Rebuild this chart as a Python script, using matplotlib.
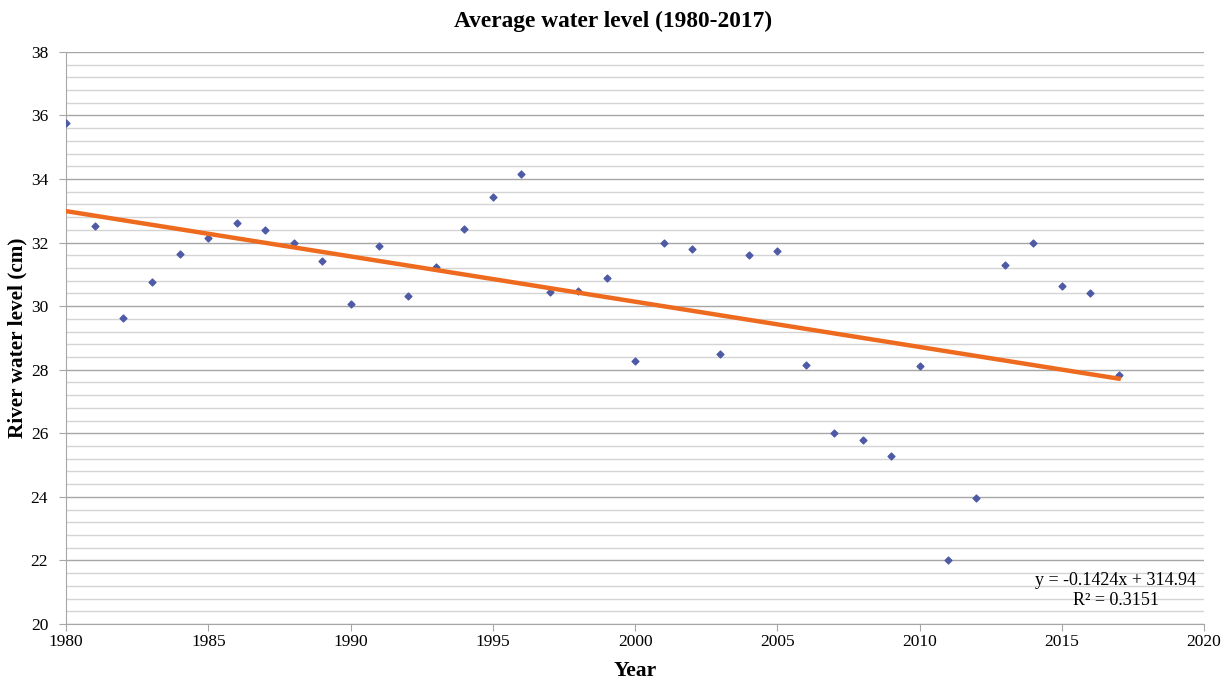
import matplotlib.pyplot as plt
from matplotlib.ticker import MultipleLocator

# Данные
years = list(range(1980, 2018))
levels = [35.75, 32.52, 29.62, 30.75, 31.64, 32.14, 32.61, 32.39, 31.98, 31.42,
          30.06, 31.89, 30.31, 31.23, 32.42, 33.43, 34.15, 30.44, 30.47, 30.88,
          28.27, 31.98, 31.79, 28.49, 31.60, 31.73, 28.14, 26.01, 25.79, 25.28,
          28.11, 22.01, 23.96, 31.29, 31.98, 30.63, 30.41, 27.83]

# Линия тренда (из подписи на графике)
SLOPE = -0.1424
INTERCEPT = 314.94
R2 = 0.3151

plt.rcParams['font.family'] = ['Liberation Serif', 'DejaVu Serif']

fig = plt.figure(figsize=(12.26, 6.82), dpi=100)
ax = fig.add_axes([0.054, 0.085, 0.928, 0.839])

# Сетка
ax.yaxis.set_major_locator(MultipleLocator(2))
ax.yaxis.set_minor_locator(MultipleLocator(0.4))
ax.xaxis.set_major_locator(MultipleLocator(5))
ax.grid(which='major', axis='y', color='#a6a6a6', linewidth=1.0)
ax.grid(which='minor', axis='y', color='#d4d4d4', linewidth=1.0)
ax.set_axisbelow(True)

# Точки
ax.scatter(years, levels, marker='D', s=12, color='#4f5aa6', zorder=3)

# Тренд
trend_x = [years[0], years[-1]]
trend_y = [SLOPE * x + INTERCEPT for x in trend_x]
ax.plot(trend_x, trend_y, color='#ee6a1e', linewidth=3.2, zorder=4)

ax.text(2016.9, 21.38, f'y = {SLOPE}x + {INTERCEPT}', ha='center', va='center', fontsize=13)
ax.text(2016.9, 20.75, f'R² = {R2}', ha='center', va='center', fontsize=13)

ax.set_xlim(1980, 2020)
ax.set_ylim(20, 38)

for side in ['top', 'right']:
    ax.spines[side].set_visible(False)
for side in ['left', 'bottom']:
    ax.spines[side].set_color('#a6a6a6')

ax.tick_params(axis='both', which='major', labelsize=12.5, color='#a6a6a6', length=5)
ax.tick_params(axis='y', which='minor', length=0)
ax.tick_params(axis='y', pad=8)
ax.tick_params(axis='x', pad=2)

fig.suptitle('Average water level (1980-2017)', fontsize=16.8, fontweight='bold',
             x=0.5, y=0.969, va='center')
ax.set_xlabel('Year', fontsize=15.5, fontweight='bold', labelpad=8)
ax.set_ylabel('River water level (cm)', fontsize=15.3, fontweight='bold')
ax.yaxis.set_label_coords(-0.034, 0.5)

fig.savefig('out.png', dpi=100)
